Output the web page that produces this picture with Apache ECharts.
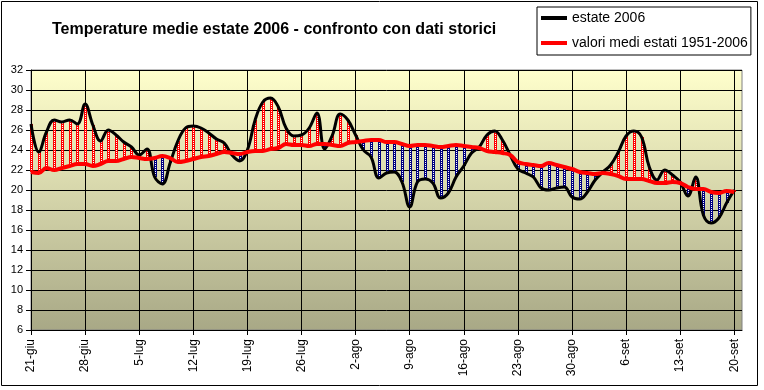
<!DOCTYPE html>
<html>
<head>
<meta charset="utf-8">
<script src="https://cdn.jsdelivr.net/npm/echarts@6/dist/echarts.min.js"></script>
<style>html,body{margin:0;padding:0;background:#fff}#c{width:764px;height:390px}</style>
</head>
<body>
<div id="c"></div>
<script>
var dates = ['21-giu','22-giu','23-giu','24-giu','25-giu','26-giu','27-giu','28-giu','29-giu','30-giu',
'1-lug','2-lug','3-lug','4-lug','5-lug','6-lug','7-lug','8-lug','9-lug','10-lug','11-lug','12-lug','13-lug','14-lug','15-lug','16-lug','17-lug','18-lug','19-lug','20-lug','21-lug','22-lug','23-lug','24-lug','25-lug','26-lug','27-lug','28-lug','29-lug','30-lug','31-lug',
'1-ago','2-ago','3-ago','4-ago','5-ago','6-ago','7-ago','8-ago','9-ago','10-ago','11-ago','12-ago','13-ago','14-ago','15-ago','16-ago','17-ago','18-ago','19-ago','20-ago','21-ago','22-ago','23-ago','24-ago','25-ago','26-ago','27-ago','28-ago','29-ago','30-ago','31-ago',
'1-set','2-set','3-set','4-set','5-set','6-set','7-set','8-set','9-set','10-set','11-set','12-set','13-set','14-set','15-set','16-set','17-set','18-set','19-set','20-set','21-set'];

var estate2006 = [26.6,23.8,25.8,27.0,26.8,27.0,26.6,28.6,26.5,24.9,
26.0,25.5,24.8,24.3,23.5,24.1,21.3,20.6,22.7,24.9,26.2,26.4,26.2,25.7,25.1,24.7,23.5,22.9,24.0,27.0,28.8,29.2,28.3,26.2,25.4,25.5,26.2,27.7,24.1,25.5,27.6,
27.0,25.5,24.0,23.3,21.2,21.7,21.8,20.8,18.3,20.8,21.1,20.7,19.2,19.7,21.3,22.4,23.7,24.3,25.5,25.9,25.0,23.5,22.1,21.7,21.3,20.2,20.0,20.2,20.3,19.3,19.1,
19.8,21.0,21.8,22.5,23.8,25.4,25.9,25.3,22.3,21.0,22.0,21.5,20.8,19.4,21.3,17.5,16.7,17.2,18.7,20.0];

var mediaStorica = [21.8,21.7,22.2,22.0,22.2,22.4,22.6,22.6,22.4,22.6,
22.9,22.9,23.1,23.3,23.2,23.1,23.2,23.4,23.2,22.8,22.9,23.1,23.3,23.4,23.6,23.8,23.7,23.6,23.8,23.9,23.9,24.1,24.2,24.6,24.5,24.5,24.4,24.6,24.6,24.5,24.4,
24.7,24.8,24.9,25.0,25.0,24.8,24.8,24.6,24.4,24.5,24.5,24.4,24.3,24.4,24.5,24.4,24.3,24.2,23.9,23.8,23.7,23.5,22.8,22.6,22.5,22.4,22.7,22.5,22.3,22.1,21.8,
21.7,21.6,21.7,21.6,21.4,21.1,21.1,21.1,20.9,20.7,20.7,20.8,20.7,20.3,20.1,20.1,19.8,19.7,19.9,19.8];

var seriesNames = ['estate 2006', 'valori medi estati 1951-2006'];
var titleText = 'Temperature medie estate 2006 - confronto con dati storici';

var barData = estate2006.map(function (v, i) { return [i, v, mediaStorica[i]]; });

var chart = echarts.init(document.getElementById('c'), null, {renderer: 'canvas'});
var FONT = 'Liberation Sans, Arial, sans-serif';

chart.setOption({
  animation: false,
  backgroundColor: '#fff',
  title: {
    text: titleText,
    left: 52, top: 22, padding: 0,
    textStyle: {fontSize: 16, fontWeight: 'bold', fontFamily: FONT, color: '#000'}
  },
  legend: {
    orient: 'vertical', left: 537, top: 7,
    padding: [4, 3, 5, 4], itemGap: 11, itemWidth: 26, itemHeight: 4, itemTextGap: 2,
    borderColor: '#000', borderWidth: 1, backgroundColor: '#fff',
    icon: 'rect', selectedMode: false,
    textStyle: {fontSize: 14, fontFamily: FONT, color: '#000'},
    data: [
      {name: seriesNames[0], itemStyle: {color: '#000'}},
      {name: seriesNames[1], itemStyle: {color: '#ff0000'}}
    ]
  },
  graphic: [{
    type: 'rect', silent: true, z: -1,
    shape: {x: 1.5, y: 1.5, width: 756, height: 384},
    style: {fill: 'none', stroke: '#000', lineWidth: 1}
  }],
  grid: {
    left: 31, top: 70, right: 22, bottom: 60,
    show: true, borderColor: '#808080', borderWidth: 1,
    backgroundColor: new echarts.graphic.LinearGradient(0, 0, 0, 1, [
      {offset: 0, color: '#FFFFCC'},
      {offset: 1, color: '#A8A886'}
    ])
  },
  xAxis: {
    type: 'category', data: dates, boundaryGap: false,
    axisLine: {lineStyle: {color: '#000', width: 1}},
    axisTick: {show: true, interval: 6, length: 5, lineStyle: {color: '#000'}},
    axisLabel: {interval: 6, rotate: 90, margin: 9, fontSize: 12, fontFamily: FONT, color: '#000', padding: [6, 0, 0, 0]},
    splitLine: {show: true, interval: 6, lineStyle: {color: '#000', width: 1}}
  },
  yAxis: {
    type: 'value', min: 6, max: 32, interval: 2,
    axisLine: {show: true, lineStyle: {color: '#000', width: 1}},
    axisTick: {show: true, length: 5, lineStyle: {color: '#000'}},
    axisLabel: {margin: 8, fontSize: 11, fontFamily: FONT, color: '#000'},
    splitLine: {show: true, lineStyle: {color: '#000', width: 1}}
  },
  series: [
    {
      type: 'custom', name: 'bars', z: 2,
      data: barData,
      encode: {x: 0, y: [1, 2]},
      renderItem: function (params, api) {
        var i = api.value(0), a = api.value(1), m = api.value(2);
        var p1 = api.coord([i, a]);
        var p2 = api.coord([i, m]);
        var up = a >= m;
        var top = Math.min(p1[1], p2[1]);
        var h = Math.abs(p1[1] - p2[1]);
        var x = Math.round(p1[0]);
        return {
          type: 'group',
          children: [
            {type: 'rect', shape: {x: x - 1, y: top, width: 3, height: h},
              style: {fill: up ? '#ff0000' : '#000080'}},
            {type: 'line', shape: {x1: x + 0.5, y1: top + 1, x2: x + 0.5, y2: top + h - 1},
              style: {stroke: '#ffffff', lineWidth: 1, lineDash: [1, 1]}}
          ]
        };
      }
    },
    {
      type: 'line', name: seriesNames[0], data: estate2006, smooth: 0.4,
      symbol: 'none', z: 3, color: '#000',
      lineStyle: {color: '#000', width: 3}
    },
    {
      type: 'line', name: seriesNames[1], data: mediaStorica, smooth: 0.4,
      symbol: 'none', z: 4, color: '#ff0000',
      lineStyle: {color: '#ff0000', width: 4}
    }
  ]
});
</script>
</body>
</html>
